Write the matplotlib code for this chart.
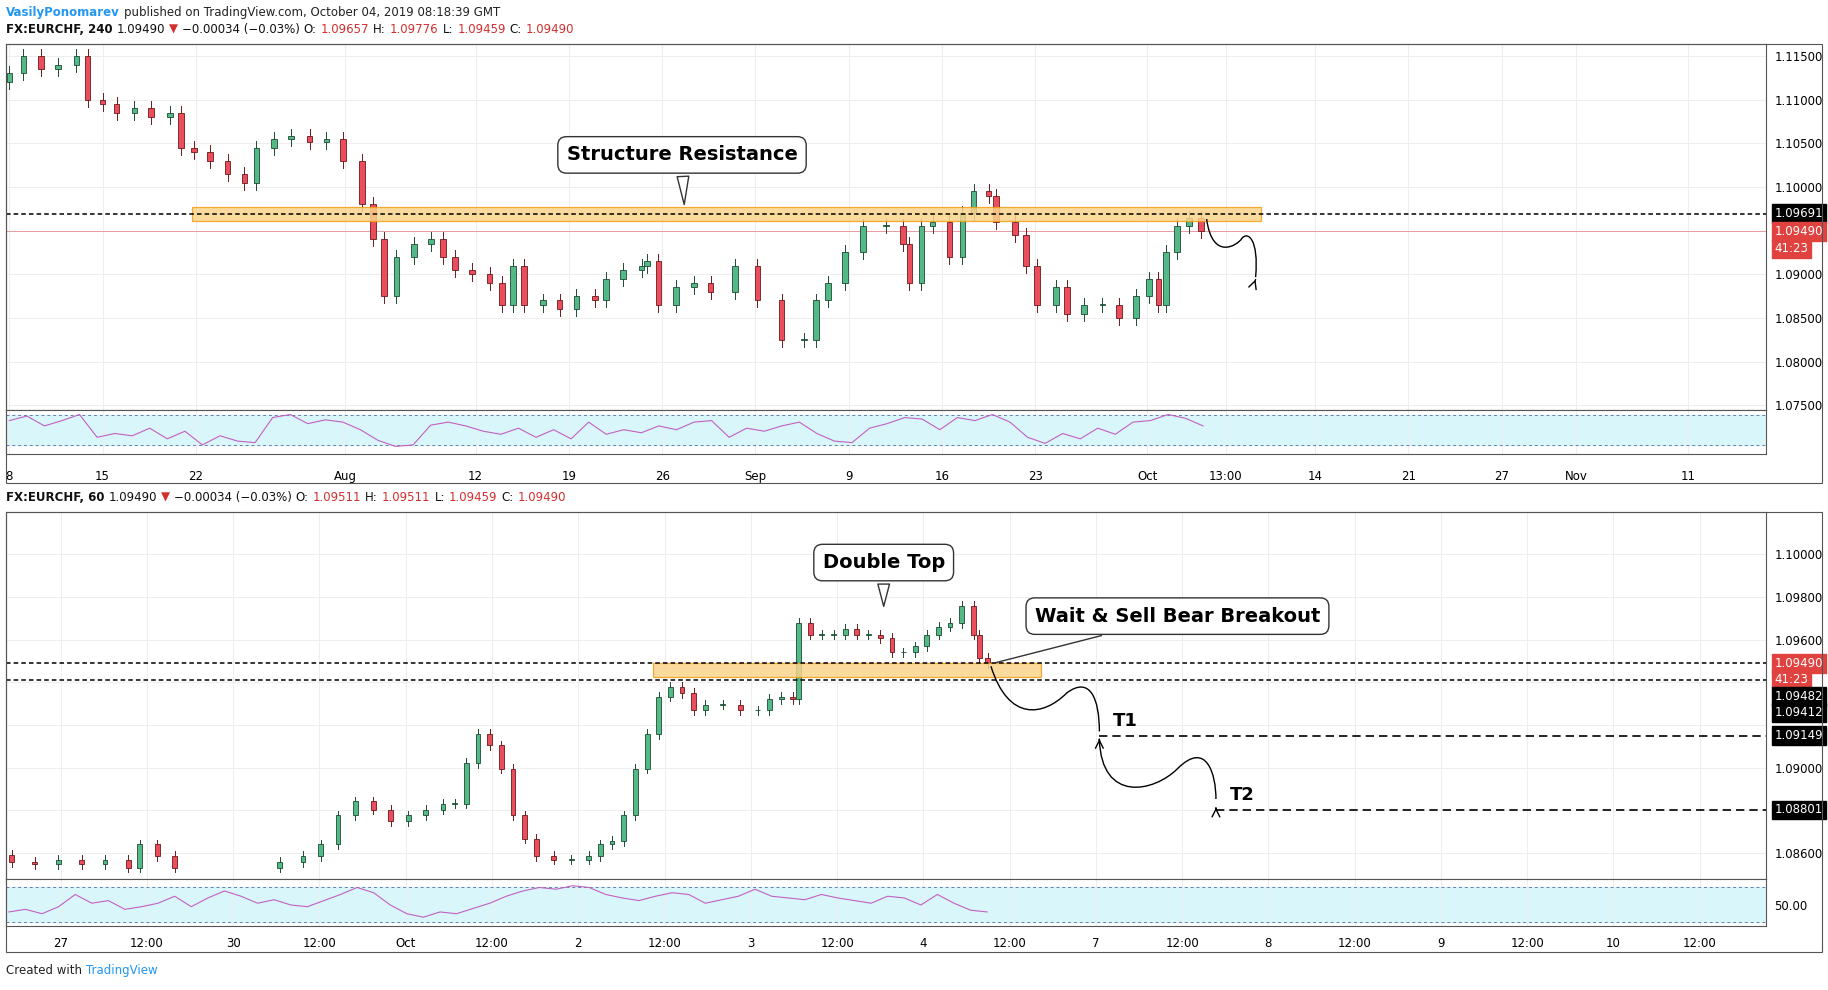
import numpy as np
import matplotlib
matplotlib.use("Agg")
import matplotlib.pyplot as plt
from matplotlib.path import Path
from matplotlib.patches import PathPatch, Rectangle

# ---------------- data ----------------
top_t = [0,0.75,1.7,2.6,3.6,4.2,5,5.75,6.7,7.6,8.6,9.2,9.9,10.75,11.7,12.6,13.25,14.2,15.1,16.1,17,
         17.9,18.9,19.5,20.1,20.75,21.7,22.6,23.25,23.9,24.8,25.75,26.4,27,27.6,28.6,29.5,30.4,31.4,32,
         32.9,33.9,34.2,34.8,35.75,36.7,37.6,38.9,40.1,41.4,42.6,43.25,43.9,44.8,45.75,47,47.9,48.25,48.9,
         49.5,50.4,51.1,51.7,52.5,52.9,53.9,54.5,55.1,56.1,56.7,57.6,58.6,59.5,60.4,61.1,61.6,62,62.6,63.25,63.9]
top_c = [1.1130,1.1150,1.1135,1.1140,1.1150,1.1100,1.1095,1.1085,1.1090,1.1080,1.1085,1.1045,1.1040,1.1030,
         1.1015,1.1005,1.1045,1.1055,1.1058,1.1052,1.1055,1.1030,1.0980,1.0940,1.0875,1.0920,1.0935,1.0940,
         1.0920,1.0905,1.0900,1.0890,1.0865,1.0910,1.0865,1.0870,1.0860,1.0875,1.0870,1.0895,1.0905,1.0910,
         1.0915,1.0865,1.0885,1.0890,1.0880,1.0910,1.0870,1.0825,1.0825,1.0870,1.0890,1.0925,1.0955,1.0955,
         1.0935,1.0890,1.0955,1.0960,1.0920,1.0970,1.0995,1.0990,1.0960,1.0945,1.0910,1.0865,1.0885,1.0855,
         1.0865,1.0865,1.0850,1.0875,1.0895,1.0865,1.0925,1.0955,1.0965,1.0949]
top_open0 = 1.1120
top_rsi = [62,68,55,62,70,40,45,42,52,38,48,30,42,35,33,66,70,58,63,60,50,36,28,30,56,60,55,48,44,52,
           40,50,38,60,44,50,46,55,50,60,62,40,52,48,55,60,45,35,33,52,58,66,64,50,66,62,70,60,40,32,
           45,38,52,44,60,62,70,65,55]
bot_t = [-0.284,-0.149,-0.014,0.122,0.257,0.392,0.459,0.561,0.662,1.27,1.405,1.507,1.608,1.709,1.811,1.912,
         2.014,2.115,2.216,2.284,2.351,2.419,2.486,2.554,2.622,2.689,2.757,2.858,2.959,3.061,3.128,3.196,
         3.264,3.331,3.399,3.466,3.534,3.601,3.669,3.736,3.838,3.939,4.041,4.108,4.176,4.243,4.277,4.345,
         4.412,4.480,4.547,4.615,4.682,4.75,4.818,4.885,4.953,5.020,5.088,5.155,5.223,5.291,5.324,5.372]
bot_c = [1.08557,1.08546,1.08568,1.08546,1.08568,1.08530,1.08639,1.08585,1.08530,1.08557,1.08585,1.08639,
         1.08776,1.08842,1.08803,1.08749,1.08776,1.08803,1.08831,1.08831,1.09022,1.09158,1.09104,1.08995,
         1.08776,1.08667,1.08585,1.08568,1.08568,1.08585,1.08639,1.08656,1.08776,1.08995,1.09158,1.09333,
         1.09377,1.09350,1.09268,1.09295,1.09295,1.09268,1.09268,1.09322,1.09333,1.09322,1.09678,1.09623,
         1.09623,1.09623,1.09650,1.09623,1.09623,1.09607,1.09541,1.09541,1.09568,1.09623,1.09661,1.09678,
         1.09760,1.09623,1.09514,1.09490]
bot_open0 = 1.08590
bot_rsi = [42,45,40,48,62,52,55,45,48,52,60,48,58,66,60,52,56,50,48,55,62,70,64,50,40,36,42,40,46,52,
           60,66,70,68,72,70,62,58,55,60,64,62,52,56,60,68,60,58,56,62,58,55,52,60,58,50,62,52,44,42]

top_ticks_x = [0,5,10,18,25,30,35,40,45,50,55,61,65.2,70,75,80,84,90]
top_ticks_lbl = ["8","15","22","Aug","12","19","26","Sep","9","16","23","Oct","13:00","14","21","27","Nov","11"]
bot_ticks_x = [0,0.5,1,1.5,2,2.5,3,3.5,4,4.5,5,5.5,6,6.5,7,7.5,8,8.5,9,9.5]
bot_ticks_lbl = ["27","12:00","30","12:00","Oct","12:00","2","12:00","3","12:00","4","12:00","7","12:00",
                 "8","12:00","9","12:00","10","12:00"]

# ---------------- figure ----------------
W, H = 1568, 850
fig = plt.figure(figsize=(18.28, 9.9), dpi=100)

def axr(x0, y0, x1, y1):
    return fig.add_axes([x0 / W, 1 - y1 / H, (x1 - x0) / W, (y1 - y0) / H])

UP, DN = "#53b987", "#eb4d5c"
UPE, DNE = "#1d4a33", "#6b1a1a"

def candles(ax, t, c, o0, w, ext):
    o = [o0] + list(c[:-1])
    for ti, oi, ci in zip(t, o, c):
        up = ci >= oi
        lo, hi = min(oi, ci), max(oi, ci)
        ax.plot([ti, ti], [lo - ext, hi + ext], color=UPE if up else DNE, lw=0.7, zorder=3)
        ax.add_patch(Rectangle((ti - w / 2, lo), w, max(hi - lo, ext * 0.15),
                               facecolor=UP if up else DN, edgecolor=UPE if up else DNE, lw=0.6, zorder=4))

def style(ax):
    for s in ax.spines.values():
        s.set_color("#555555"); s.set_linewidth(0.8)
    ax.grid(color="#eeeeee", lw=0.8)
    ax.set_axisbelow(True)

def tag(ax, y, text, bg):
    ax.annotate(text, xy=(1.0, y), xycoords=("axes fraction", "data"), xytext=(6, 0),
                textcoords="offset points", va="center", ha="left", fontsize=8.5, color="white",
                bbox=dict(boxstyle="square,pad=0.25", fc=bg, ec=bg), annotation_clip=False, zorder=10)

def curve(ax, pts, col="black"):
    codes = [Path.MOVETO] + [Path.CURVE4] * (len(pts) - 1)
    ax.add_patch(PathPatch(Path(pts, codes), fc="none", ec=col, lw=1.0, zorder=6))

def arrowhead(ax, tip, dx, dy):
    ax.annotate("", xy=tip, xytext=(tip[0] - dx, tip[1] - dy),
                arrowprops=dict(arrowstyle="->", lw=1.0, color="black", mutation_scale=14), zorder=6)

# ---------- top price ----------
ax1 = axr(5, 38, 1515, 352)
style(ax1)
tx = lambda x: (x - 8) / 16
ty = lambda y: 1.115 - (y - 48) / 7500
ax1.set_xlim(tx(5), tx(1515)); ax1.set_ylim(ty(352), ty(38))
candles(ax1, top_t, top_c, top_open0, 0.3, 0.0008)
ax1.yaxis.tick_right()
ax1.set_yticks(np.arange(1.075, 1.1151, 0.005))
ax1.set_yticklabels([f"{v:.5f}" for v in np.arange(1.075, 1.1151, 0.005)], fontsize=8.5)
ax1.tick_params(axis="y", length=0, pad=6)
ax1.set_xticks(top_ticks_x); ax1.tick_params(axis="x", labelbottom=False, length=0)
ax1.add_patch(Rectangle((tx(165), ty(190)), tx(1082) - tx(165), ty(178) - ty(190),
                        fc="#fbd48c", ec="#f39c12", lw=0.9, alpha=0.85, zorder=5))
ax1.axhline(1.09691, color="black", ls=(0, (3, 2)), lw=1.1, zorder=6)
ax1.axhline(1.09490, color="#eb4d5c", lw=0.6, alpha=0.6, zorder=2)
tag(ax1, 1.09691, "1.09691", "black"); tag(ax1, 1.09490, "1.09490", "#e0433f"); tag(ax1, ty(213), "41:23", "#e0433f")
ax1.annotate("Structure Resistance", xy=(tx(587), ty(178)), xytext=(tx(585), ty(133)),
             ha="center", va="center", fontsize=14, fontweight="bold", zorder=8,
             bbox=dict(boxstyle="round,pad=0.45", fc="white", ec="#333333", lw=1),
             arrowprops=dict(arrowstyle="wedge,tail_width=0.6", fc="white", ec="#333333", lw=1))
curve(ax1, [(tx(1035), ty(188)), (tx(1040), ty(225)), (tx(1062), ty(210)), (tx(1065), ty(205)),
            (tx(1070), ty(198)), (tx(1080), ty(205)), (tx(1077), ty(238))])
arrowhead(ax1, (tx(1077), ty(240)), 0.05, 0.0003)

# ---------- top RSI ----------
ax1r = axr(5, 352, 1515, 390)
style(ax1r); ax1r.grid(False)
ax1r.set_xlim(tx(5), tx(1515)); ax1r.set_ylim(17.7, 76)
ax1r.axhspan(30, 70, color="#d9f7fb", zorder=0)
ax1r.axhline(70, color="#6a7fa8", ls=(0, (3, 3)), lw=0.7); ax1r.axhline(30, color="#6a7fa8", ls=(0, (3, 3)), lw=0.7)
ax1r.plot(np.linspace(0, 64, len(top_rsi)), top_rsi, color="#c35fc3", lw=0.8)
ax1r.set_yticks([])
ax1r.set_xticks(top_ticks_x); ax1r.set_xticklabels(top_ticks_lbl, fontsize=8.5)
ax1r.tick_params(axis="x", length=0, pad=11)
ax1r.xaxis.grid(True, color="#eeeeee")

# ---------- bottom price ----------
ax2 = axr(5, 440, 1515, 755)
style(ax2)
bx = lambda x: (x - 52) / 148
by = lambda y: 1.1 - (y - 476) / 18300
ax2.set_xlim(bx(5), bx(1515)); ax2.set_ylim(by(755), by(440))
candles(ax2, bot_t, bot_c, bot_open0, 0.028, 0.00022)
ax2.yaxis.tick_right()
yt = [1.086, 1.088, 1.090, 1.092, 1.094, 1.096, 1.098, 1.100]
ax2.set_yticks(yt)
ax2.set_yticklabels([f"{v:.5f}" if v in (1.086, 1.09, 1.096, 1.098, 1.1) else "" for v in yt], fontsize=8.5)
ax2.tick_params(axis="y", length=0, pad=6)
ax2.set_xticks(bot_ticks_x); ax2.tick_params(axis="x", labelbottom=False, length=0)
ax2.add_patch(Rectangle((bx(560), by(581)), bx(893) - bx(560), by(569) - by(581),
                        fc="#fbd48c", ec="#f39c12", lw=0.9, alpha=0.85, zorder=5))
ax2.axhline(1.09490, color="black", ls=(0, (3, 2)), lw=1.1, zorder=6)
ax2.axhline(1.09412, color="black", ls=(0, (3, 2)), lw=1.1, zorder=6)
ax2.plot([bx(943), bx(1515)], [1.09149] * 2, color="black", ls=(0, (5, 3)), lw=1.2, zorder=6)
ax2.plot([bx(1043), bx(1515)], [1.08801] * 2, color="black", ls=(0, (5, 3)), lw=1.2, zorder=6)
ax2.text(bx(955), 1.09175, "T1", fontsize=13, fontweight="bold", va="bottom")
ax2.text(bx(1055), 1.08830, "T2", fontsize=13, fontweight="bold", va="bottom")
tag(ax2, 1.09490, "1.09490", "#e0433f"); tag(ax2, by(583), "41:23", "#e0433f")
tag(ax2, by(598), "1.09482", "black"); tag(ax2, by(612), "1.09412", "black")
tag(ax2, 1.09149, "1.09149", "black"); tag(ax2, 1.08801, "1.08801", "black")
ax2.annotate("Double Top", xy=(bx(758), by(523)), xytext=(bx(758), by(483)),
             ha="center", va="center", fontsize=14, fontweight="bold", zorder=8,
             bbox=dict(boxstyle="round,pad=0.45", fc="white", ec="#333333", lw=1),
             arrowprops=dict(arrowstyle="wedge,tail_width=0.6", fc="white", ec="#333333", lw=1))
ax2.annotate("Wait & Sell Bear Breakout", xy=(bx(850), by(570)), xytext=(bx(1010), by(529)),
             ha="center", va="center", fontsize=14, fontweight="bold", zorder=8,
             bbox=dict(boxstyle="round,pad=0.45", fc="white", ec="#333333", lw=1),
             arrowprops=dict(arrowstyle="-", ec="#333333", lw=1))
curve(ax2, [(bx(850), by(572)), (bx(865), by(620)), (bx(895), by(615)), (bx(915), by(595)),
            (bx(935), by(580)), (bx(943), by(600)), (bx(943), by(628))])
arrowhead(ax2, (bx(943), by(632)), 0.0, 0.0003)
curve(ax2, [(bx(943), by(635)), (bx(945), by(690)), (bx(990), by(680)), (bx(1010), by(660)),
            (bx(1035), by(635)), (bx(1043), by(665)), (bx(1043), by(686))])
arrowhead(ax2, (bx(1043), by(691)), 0.0, 0.0003)

# ---------- bottom RSI ----------
ax2r = axr(5, 755, 1515, 795)
style(ax2r); ax2r.grid(False)
ax2r.set_xlim(bx(5), bx(1515)); ax2r.set_ylim(26, 79.3)
ax2r.axhspan(30, 70, color="#d9f7fb", zorder=0)
ax2r.axhline(70, color="#6a7fa8", ls=(0, (3, 3)), lw=0.7); ax2r.axhline(30, color="#6a7fa8", ls=(0, (3, 3)), lw=0.7)
ax2r.plot(np.linspace(-0.3, 5.37, len(bot_rsi)), bot_rsi, color="#c35fc3", lw=0.8)
ax2r.yaxis.tick_right(); ax2r.set_yticks([50]); ax2r.set_yticklabels(["50.00"], fontsize=8.5)
ax2r.tick_params(axis="y", length=0, pad=6)
ax2r.set_xticks(bot_ticks_x); ax2r.set_xticklabels(bot_ticks_lbl, fontsize=8.5)
ax2r.tick_params(axis="x", length=0, pad=8)
ax2r.xaxis.grid(True, color="#eeeeee")

for (y0, y1) in [(38, 415), (440, 817)]:
    fig.add_artist(Rectangle((5 / W, 1 - y1 / H), 1558 / W, (y1 - y0) / H, transform=fig.transFigure,
                             fill=False, ec="#555555", lw=0.8))

# ---------- header texts (placed sequentially) ----------
renderer = fig.canvas.get_renderer()
def seq(y, parts, x=5):
    xf = x / W
    for s, kw in parts:
        t = fig.text(xf, 1 - y / H, s, va="center", ha="left", fontsize=8.5, **kw)
        bb = t.get_window_extent(renderer)
        xf = (bb.x1 + 4) / fig.bbox.width

K = dict(color="#111111"); RED = dict(color="#d32f2f")
seq(11, [("VasilyPonomarev", dict(color="#2196f3", fontweight="bold")),
         ("published on TradingView.com, October 04, 2019 08:18:39 GMT", dict(color="#222222"))])
for y, lab, vals in [(25, "FX:EURCHF, 240", ["1.09657", "1.09776", "1.09459", "1.09490"]),
                     (427, "FX:EURCHF, 60", ["1.09511", "1.09511", "1.09459", "1.09490"])]:
    parts = [(lab, dict(color="#111111", fontweight="bold")), ("1.09490", K), ("▼", RED),
             ("−0.00034 (−0.03%)", K)]
    for k, v in zip(["O:", "H:", "L:", "C:"], vals):
        parts.append((k + "$\\,$", K)) if False else parts.append((k, K))
        parts.append((v, RED))
    seq(y, parts)
seq(833, [("Created with", dict(color="#222222")), ("TradingView", dict(color="#2196f3"))])

fig.savefig("out.png", dpi=100, facecolor="white")
